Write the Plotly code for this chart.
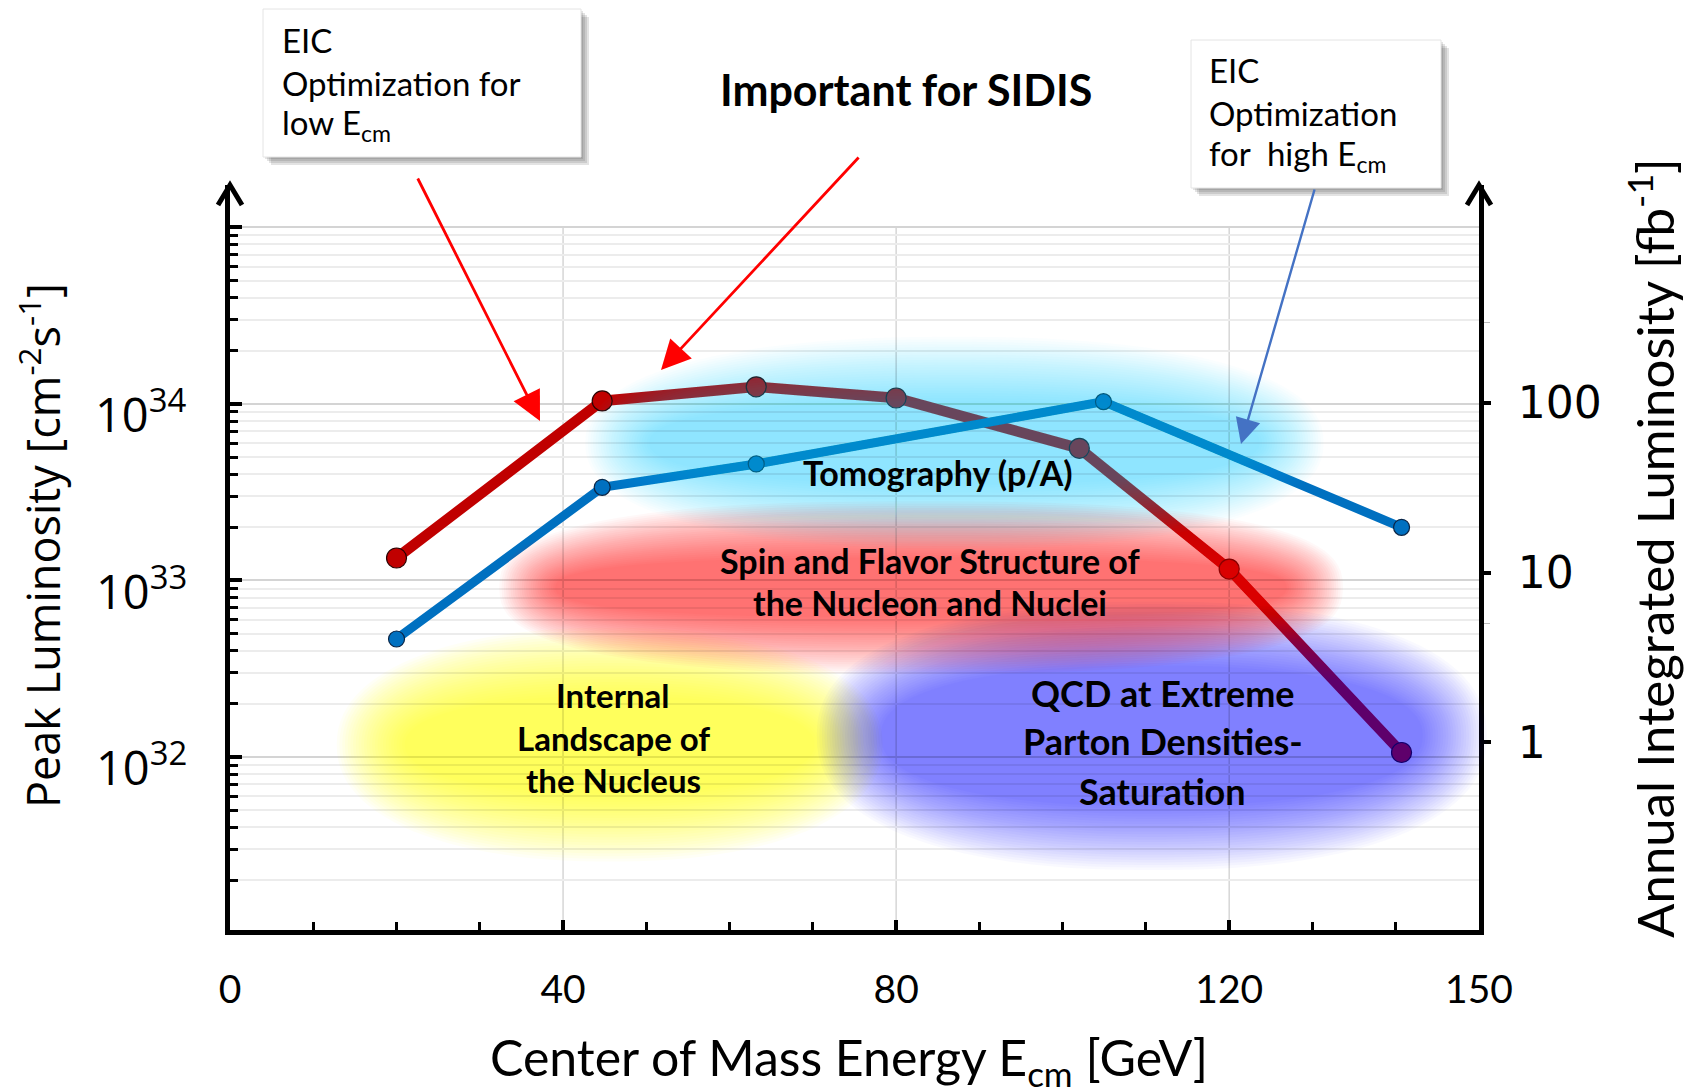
import numpy as np
import plotly.graph_objects as go

# ---------------------------------------------------------------- data
# EIC luminosity vs. centre-of-mass energy for the two machine optimisations
energy_low_opt = [20, 44.7, 63.2, 80, 102, 120, 140.7]
lumi_low_opt = [1.34e33, 1.04e34, 1.25e34, 1.08e34, 5.6e33, 1.16e33, 1.06e32]

energy_high_opt = [20, 44.7, 63.2, 104.9, 140.7]
lumi_high_opt = [4.66e32, 3.37e33, 4.57e33, 1.03e34, 2.0e33]

x_tick_vals = [0, 40, 80, 120, 150]
x_tick_text = ["0", "40", "80", "120", "150"]
x_grid_vals = [40, 80, 120]
peak_label_exps = [32, 33, 34]
peak_tick_vals = [1e32, 1e33, 1e34, 1e35]
annual_tick_vals = [1, 10, 100]
annual_tick_text = ["1", "10", "100"]

# ---------------------------------------------------------------- geometry
FIG_W, FIG_H = 1685, 1092
L, T, W, H = 230, 185, 1249, 745
XMIN, XMAX = 0, 150
YMIN, YMAX = 31.02, 35.24          # log10 of peak luminosity
GRID_TOP = 35.0                    # horizontal grid stops at 10^35
Y2MIN, Y2MAX = -1.107, 3.286       # log10 of annual integrated luminosity

FONT_CAL = "Lato"
FONT_SEG = "Open Sans"
FONT_VER = "DejaVu Sans"


def px_x(gev):
    return L + W * (gev - XMIN) / (XMAX - XMIN)


def px_y(logv):
    return T + H * (YMAX - logv) / (YMAX - YMIN)


def paper_x(px):
    return (px - L) / W


def paper_y(py):
    return (T + H - py) / H


GEV_PX = W / (XMAX - XMIN)
DEC_PX = H / (YMAX - YMIN)

fig = go.Figure()

fig.add_trace(go.Scatter(
    x=energy_low_opt, y=lumi_low_opt, mode="lines+markers",
    line=dict(color="#C00000", width=10.5),
    marker=dict(size=20, color="#C00000", line=dict(color="#2a0000", width=1.2)),
    showlegend=False, hoverinfo="skip"))

fig.add_trace(go.Scatter(
    x=energy_high_opt, y=lumi_high_opt, mode="lines+markers",
    line=dict(color="#0070C0", width=9),
    marker=dict(size=16, color="#0070C0", line=dict(color="#0b2545", width=1.2)),
    showlegend=False, hoverinfo="skip"))

# keeps the right-hand axis alive
fig.add_trace(go.Scatter(x=[None], y=[None], yaxis="y2", showlegend=False,
                         hoverinfo="skip"))

shapes = []

# vertical grid lines, stopping at the top decade
for gx in x_grid_vals:
    shapes.append(dict(
        type="line", layer="below", xref="paper", yref="paper",
        x0=paper_x(px_x(gx)), x1=paper_x(px_x(gx)),
        y0=0, y1=paper_y(px_y(GRID_TOP)),
        line=dict(color="#d6d6d6", width=1.5)))

# ---------------------------------------------------------------- soft physics clouds
# centre (GeV, log10 L), half sizes (GeV, decades), feather (px), rgb, peak alpha, squareness
clouds = [
    dict(cx=45.6, cy=32.07, hx=28.7, hy=0.47, f=34, rgb=(255, 255, 0), peak=0.60, n=2.2),
    dict(cx=110.7, cy=32.12, hx=36.4, hy=0.58, f=32, rgb=(0, 0, 240), peak=0.47, n=2.3),
    dict(cx=83.0, cy=32.96, hx=47.3, hy=0.33, f=28, rgb=(255, 0, 0), peak=0.50, n=2.6),
    dict(cx=87.0, cy=33.78, hx=40.5, hy=0.42, f=32, rgb=(0, 190, 235), peak=0.42, n=2.3),
]


def blob_path(a, b, n, m=110):
    pts = []
    for t in np.linspace(0, 2 * np.pi, m, endpoint=False):
        c, s = np.cos(t), np.sin(t)
        x = a * np.sign(c) * abs(c) ** (2 / n)
        y = b * np.sign(s) * abs(s) ** (2 / n)
        pts.append(f"{x:.1f},{y:.1f}")
    return "M" + " L".join(pts) + " Z"


N_LAYERS = 26
for c in clouds:
    a = c["hx"] * GEV_PX
    b = c["hy"] * DEC_PX
    o = 1 - (1 - c["peak"]) ** (1 / N_LAYERS)
    r, g, bl = c["rgb"]
    for i in range(N_LAYERS):
        t = c["f"] * (1 - 2 * i / (N_LAYERS - 1))
        shapes.append(dict(
            type="path", layer="above",
            xref="paper", yref="paper", xsizemode="pixel", ysizemode="pixel",
            xanchor=paper_x(px_x(c["cx"])), yanchor=paper_y(px_y(c["cy"])),
            path=blob_path(a + t, b + t, c["n"]),
            fillcolor=f"rgba({r},{g},{bl},{o:.4f})", line=dict(width=0)))

# ---------------------------------------------------------------- axis arrowheads
for xa in (0, 1):
    shapes.append(dict(
        type="path", layer="above", xref="paper", yref="paper",
        xsizemode="pixel", ysizemode="pixel", xanchor=xa, yanchor=1,
        path="M -12,-20 L 0,0 L 12,-20",
        line=dict(color="black", width=5)))

# ---------------------------------------------------------------- callout boxes
boxes = [
    dict(x0=263, y0=9, x1=581, y1=157, tx=280,
         lines=[("EIC", 40), ("Optimization for", 83), ("low E<sub>cm</sub>", 125)]),
    dict(x0=1191, y0=40, x1=1441, y1=188, tx=1207,
         lines=[("EIC", 70), ("Optimization", 113), ("for\u00a0 high E<sub>cm</sub>", 155)]),
]

annotations = []
for bx in boxes:
    for d in (2, 4, 6, 8):
        shapes.append(dict(
            type="rect", layer="above", xref="paper", yref="paper",
            x0=paper_x(bx["x0"] + d), x1=paper_x(bx["x1"] + d),
            y0=paper_y(bx["y1"] + d), y1=paper_y(bx["y0"] + d),
            fillcolor="rgba(70,70,70,0.15)", line=dict(width=0)))
    shapes.append(dict(
        type="rect", layer="above", xref="paper", yref="paper",
        x0=paper_x(bx["x0"]), x1=paper_x(bx["x1"]),
        y0=paper_y(bx["y1"]), y1=paper_y(bx["y0"]),
        fillcolor="white", line=dict(color="#e4e4e4", width=1)))
    for txt, ly in bx["lines"]:
        annotations.append(dict(
            text=txt, xref="paper", yref="paper", x=paper_x(bx["tx"]), y=paper_y(ly),
            xanchor="left", yanchor="middle", showarrow=False,
            font=dict(family=FONT_CAL, size=33, color="black")))

# ---------------------------------------------------------------- pointer arrows
pointers = [
    dict(tail=(417, 177), head=(540, 421), color="#FF0000", width=2.8),
    dict(tail=(860, 156), head=(661, 370), color="#FF0000", width=2.8),
    dict(tail=(1315, 188), head=(1241, 444), color="#4472C4", width=2.4),
]
for p in pointers:
    annotations.append(dict(
        text="", xref="paper", yref="paper",
        x=paper_x(p["head"][0]), y=paper_y(p["head"][1]),
        axref="pixel", ayref="pixel",
        ax=p["tail"][0] - p["head"][0], ay=p["tail"][1] - p["head"][1],
        showarrow=True, arrowhead=2, arrowsize=2.1, arrowwidth=p["width"],
        arrowcolor=p["color"], standoff=0, startstandoff=0))

# ---------------------------------------------------------------- region labels
region_labels = [
    ("Tomography (p/A)", 85.0, [33.61], 34),
    ("Spin and Flavor Structure of|the Nucleon and Nuclei", 84.1, [33.115, 32.877], 34),
    ("Internal|Landscape of|the Nucleus", 46.0, [32.35, 32.11, 31.87], 33),
    ("QCD at Extreme|Parton Densities-|Saturation", 112.0, [32.362, 32.09, 31.81], 36),
]
for text, gx, ys, size in region_labels:
    for line, ly in zip(text.split("|"), ys):
        annotations.append(dict(
            text=f"<b>{line}</b>", xref="paper", yref="paper",
            x=paper_x(px_x(gx)), y=paper_y(px_y(ly)),
            xanchor="center", yanchor="middle", showarrow=False,
            font=dict(family=FONT_CAL, size=size, color="black")))

annotations.append(dict(
    text="<b>Important for SIDIS</b>", xref="paper", yref="paper",
    x=paper_x(906), y=paper_y(89), xanchor="center", yanchor="middle",
    showarrow=False, font=dict(family=FONT_CAL, size=43, color="black")))

# ---------------------------------------------------------------- peak-luminosity tick labels
for e in peak_label_exps:
    annotations.append(dict(
        text=f"10<sup>{e}</sup>", xref="paper", yref="paper",
        x=paper_x(189), y=paper_y(px_y(e)), yshift=-8,
        xanchor="right", yanchor="middle", showarrow=False,
        font=dict(family=FONT_SEG, size=47, color="black")))

# ---------------------------------------------------------------- axis titles
annotations.append(dict(
    text="Peak Luminosity [cm<sup>-2</sup>s<sup>-1</sup>]", textangle=-90,
    xref="paper", yref="paper", x=paper_x(40), y=paper_y(546),
    xanchor="center", yanchor="middle", showarrow=False,
    font=dict(family=FONT_SEG, size=45, color="black")))
annotations.append(dict(
    text="Annual Integrated Luminosity [fb<sup>-1</sup>]", textangle=-90,
    xref="paper", yref="paper", x=paper_x(1651), y=paper_y(548),
    xanchor="center", yanchor="middle", showarrow=False,
    font=dict(family=FONT_CAL, size=51, color="black")))
annotations.append(dict(
    text="Center of Mass Energy E<sub>cm</sub> [GeV]",
    xref="paper", yref="paper", x=paper_x(849), y=paper_y(1060),
    xanchor="center", yanchor="middle", showarrow=False,
    font=dict(family=FONT_CAL, size=50, color="black")))

# ---------------------------------------------------------------- layout
peak_minor = [k * 10.0 ** e for e in range(31, 36) for k in range(2, 10)]

fig.update_layout(
    width=FIG_W, height=FIG_H,
    margin=dict(l=L, r=FIG_W - L - W, t=T, b=FIG_H - T - H, pad=0),
    paper_bgcolor="white", plot_bgcolor="white",
    showlegend=False,
    shapes=shapes, annotations=annotations,
    xaxis=dict(
        range=[XMIN, XMAX], tickmode="array", tickvals=x_tick_vals, ticktext=x_tick_text,
        showline=True, linecolor="black", linewidth=5,
        ticks="inside", ticklen=10, tickwidth=4, tickcolor="black",
        showgrid=False,
        minor=dict(dtick=10, ticks="inside", ticklen=8, tickwidth=3,
                   tickcolor="black", showgrid=False),
        tickfont=dict(family=FONT_CAL, size=39, color="black"),
        ticklabelstandoff=21, zeroline=False, fixedrange=True),
    yaxis=dict(
        type="log", range=[YMIN, YMAX], tickmode="array",
        tickvals=peak_tick_vals, showticklabels=False,
        showline=True, linecolor="black", linewidth=5,
        ticks="inside", ticklen=12, tickwidth=4, tickcolor="black",
        showgrid=True, gridcolor="#d4d4d4", gridwidth=2,
        minor=dict(tickmode="array", tickvals=peak_minor, ticks="inside",
                   ticklen=8, tickwidth=3, tickcolor="black",
                   showgrid=True, gridcolor="#ececec", gridwidth=2),
        zeroline=False, fixedrange=True),
    yaxis2=dict(
        type="log", range=[Y2MIN, Y2MAX], overlaying="y", side="right",
        tickmode="array", tickvals=annual_tick_vals, ticktext=annual_tick_text,
        showline=True, linecolor="black", linewidth=5,
        ticks="outside", ticklen=7, tickwidth=4, tickcolor="black",
        minor=dict(tickmode="array", tickvals=[5, 300], ticks="outside",
                   ticklen=6, tickwidth=1, tickcolor="#bdbdbd", showgrid=False),
        showgrid=False, zeroline=False,
        tickfont=dict(family=FONT_VER, size=44, color="black"),
        ticklabelstandoff=18, fixedrange=True),
)

fig.write_html("out.html")
